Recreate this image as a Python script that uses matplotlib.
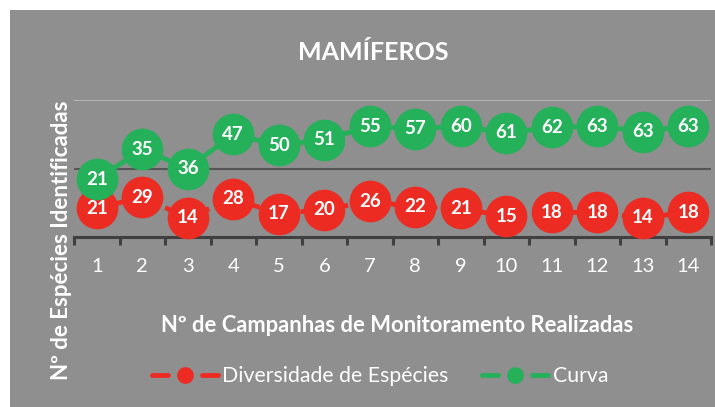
import matplotlib
matplotlib.use("Agg")
import matplotlib.pyplot as plt
from matplotlib.lines import Line2D
import numpy as np

campanhas = list(range(1, 15))
diversidade = [21, 29, 14, 28, 17, 20, 26, 22, 21, 15, 18, 18, 14, 18]
curva = [21, 35, 36, 47, 50, 51, 55, 57, 60, 61, 62, 63, 63, 63]

title = "MAMÍFEROS"
xlabel = "Nº de Campanhas de Monitoramento Realizadas"
ylabel = "Nº de Espécies Identificadas"
series_names = ["Diversidade de Espécies", "Curva"]

RED = "#ec2b23"
GREEN = "#25b05a"
BG = "#8f8f8f"
FONT = ["Lato", "DejaVu Sans"]

fig = plt.figure(figsize=(7.15, 4.07), dpi=100, facecolor=BG)
# white margin top/left
fig.patches.append(plt.Rectangle((0, 1 - 10 / 407), 1, 10 / 407, transform=fig.transFigure,
                                 facecolor="white", edgecolor="none", zorder=-10))
fig.patches.append(plt.Rectangle((0, 0), 10 / 715, 1, transform=fig.transFigure,
                                 facecolor="white", edgecolor="none", zorder=-10))

ax = fig.add_axes([74 / 715, (407 - 237) / 407, (711 - 74) / 715, (237 - 100) / 407])
ax.set_facecolor("none")
ax.set_xlim(0.5, 14.5)
ax.set_ylim(0, 100)

# stacked line chart
x = np.array(campanhas)
red_y = np.array(diversidade)
green_y = red_y + np.array(curva)

ax.plot(x, red_y, color=RED, lw=3.5, ls=(0, (2.5, 1.2)), marker="o", ms=29,
        mec=RED, mfc=RED, zorder=3, clip_on=False)
ax.plot(x, green_y, color=GREEN, lw=3.5, marker="o", ms=29,
        mec=GREEN, mfc=GREEN, zorder=4, clip_on=False)
for xi, yi, v in zip(x, red_y, diversidade):
    ax.text(xi, yi, str(v), ha="center", va="center", color="white", fontsize=13.5,
            fontweight="bold", family=FONT, zorder=5)
for xi, yi, v in zip(x, green_y, curva):
    ax.text(xi, yi, str(v), ha="center", va="center", color="white", fontsize=13.5,
            fontweight="bold", family=FONT, zorder=6)

# gridlines
ax.axhline(100, color="#b5b5b5", lw=1.5, zorder=1)
ax.axhline(50, color="#555555", lw=1.5, zorder=1)

for s in ["top", "right", "left"]:
    ax.spines[s].set_visible(False)
ax.spines["bottom"].set_color("#404040")
ax.spines["bottom"].set_linewidth(2.2)
ax.set_yticks([])
ax.set_xticks(x)
ax.set_xticklabels([str(c) for c in campanhas], color="white", fontsize=14.5, family=FONT)
ax.set_xticks(np.arange(0.5, 15, 1), minor=True)
ax.tick_params(axis="x", which="major", length=0, pad=15)
ax.tick_params(axis="x", which="minor", length=6, width=2.2, color="#404040", direction="out")

fig.text(373 / 715, 1 - 52 / 407, title, ha="center", va="center", color="white",
         fontsize=18, fontweight="bold", family=FONT)
fig.text(397 / 715, 1 - 325 / 407, xlabel, ha="center", va="center", color="white",
         fontsize=15.8, fontweight="bold", family=FONT)
fig.text(62 / 715, 1 - 240 / 407, ylabel, ha="center", va="center", color="white",
         fontsize=16, fontweight="bold", family=FONT, rotation=90)

leg_dash = (0, (3.29, 7.0))
handles = [
    Line2D([], [], color=RED, lw=3.5, ls=leg_dash, dash_capstyle="round",
           marker="o", ms=11, mfc=RED, mec=RED),
    Line2D([], [], color=GREEN, lw=3.5, ls=leg_dash, dash_capstyle="round",
           marker="o", ms=11, mfc=GREEN, mec=GREEN),
]
leg = fig.legend(handles, series_names, loc="center", bbox_to_anchor=(380 / 715, 1 - 376 / 407),
                 ncol=2, frameon=False, handlelength=3.1, handletextpad=0.2, columnspacing=1.6,
                 prop={"family": FONT, "size": 15.3})
for t in leg.get_texts():
    t.set_color("white")

fig.savefig("out.png", dpi=100, facecolor=fig.get_facecolor())
